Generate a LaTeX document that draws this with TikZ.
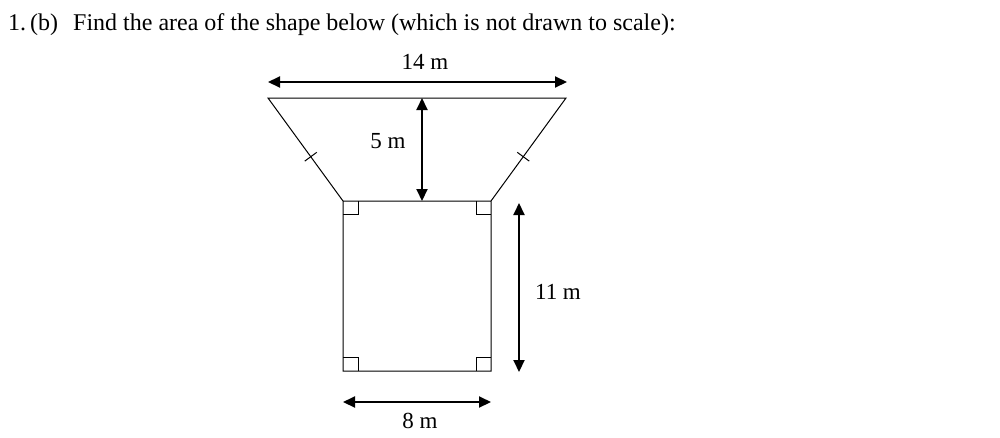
\documentclass[tikz,border=0pt]{standalone}
\usepackage{fontspec}
\setmainfont{Liberation Serif}
\usetikzlibrary{arrows.meta,calc}
\begin{document}
\begin{tikzpicture}[x=1pt,y=-1pt,
  outline/.style={draw=black,line width=1pt},
  dimline/.style={draw=black,line width=2pt,{Triangle[length=12pt,width=11pt]}-{Triangle[length=12pt,width=11pt]}},
  lbl/.style={font=\fontsize{23}{27}\selectfont,inner sep=0pt},
  rmark/.style={draw=black,line width=1pt}]
\useasboundingbox (0,0) rectangle (1000,437);
\node[lbl,font=\fontsize{24}{28}\selectfont,anchor=base west] (title) at (8,30) {1.\,(b)\hspace{15pt}Find the area of the shape below (which is not drawn to scale):};
% shape corners
\coordinate (tl) at (268,98);
\coordinate (tr) at (566,98);
\coordinate (bl) at (343,201);
\coordinate (br) at (491,201);
\coordinate (rbl) at (343,371);
\coordinate (rbr) at (491,371);
\draw[outline] (bl) -- (tl) -- (tr) -- (br) -- (bl) -- (rbl) -- (rbr) -- (br);
% right angle marks
\draw[rmark] (343,214) -- (358,214) -- (358,201);
\draw[rmark] (491,214) -- (476,214) -- (476,201);
\draw[rmark] (343,357) -- (358,357) -- (358,371);
\draw[rmark] (491,357) -- (476,357) -- (476,371);
% tick marks
\coordinate (ml) at ($(tl)!0.57!(bl)$);
\coordinate (mr) at ($(tr)!0.57!(br)$);
\draw[rmark] ($(ml)+(-6,4.4)$) -- ($(ml)+(6,-4.4)$);
\draw[rmark] ($(mr)+(-6,-4.4)$) -- ($(mr)+(6,4.4)$);
% dims
\coordinate (a14l) at (268,82);
\coordinate (a14r) at (567,82);
\draw[dimline] (a14l) -- (a14r);
\node[lbl] (l14) at (425,62) {14 m};
\coordinate (a5t) at (422,98);
\coordinate (a5b) at (422,201);
\draw[dimline] (a5t) -- (a5b);
\node[lbl] (l5) at (388,141) {5 m};
\coordinate (a11t) at (519,203);
\coordinate (a11b) at (519,372);
\draw[dimline] (a11t) -- (a11b);
\node[lbl] (l11) at (558,292) {11 m};
\coordinate (a8l) at (343,402);
\coordinate (a8r) at (491,402);
\draw[dimline] (a8l) -- (a8r);
\node[lbl] (l8) at (420,421) {8 m};
\end{tikzpicture}
\end{document}
